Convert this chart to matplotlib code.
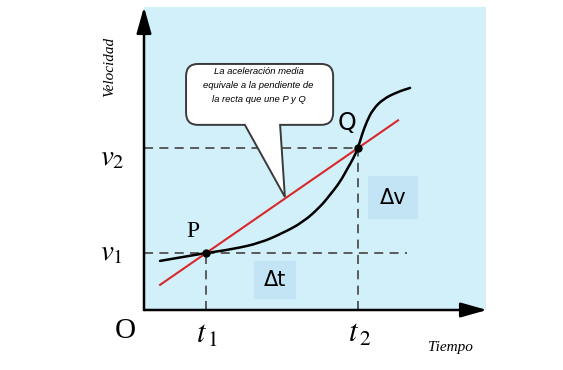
import matplotlib
matplotlib.use('Agg')
import matplotlib.pyplot as plt
from matplotlib.path import Path
from matplotlib.patches import PathPatch

plt.rcParams['mathtext.fontset'] = 'stix'

# Curva velocidad-tiempo (unidades arbitrarias, 0..10)
tiempo = [0.47, 1.14, 1.81, 2.60, 3.39, 4.06, 4.65, 5.15, 5.44, 5.73,
          5.96, 6.11, 6.26, 6.37, 6.52, 6.70, 6.99, 7.40, 7.78]
velocidad = [1.62, 1.75, 1.88, 2.01, 2.21, 2.54, 2.90, 3.40, 3.80, 4.22,
             4.69, 4.98, 5.35, 5.78, 6.24, 6.63, 6.96, 7.19, 7.33]

# Puntos P y Q
t1, v1 = 1.81, 1.88
t2, v2 = 6.26, 5.35

# Recta secante que une P y Q
recta_t = [0.47, 7.43]
recta_v = [0.83, 6.26]

# Fin de la guia horizontal de v1
fin_guia_v1 = 7.69

texto_globo = ["La aceleración media",
               "equivale a la pendiente de",
               "la recta que une P y Q"]

fondo = '#d2f0fa'
caja = '#c2e4f5'
guia = '#505050'

fig = plt.figure(figsize=(5.63, 3.70), dpi=100)
ax = fig.add_axes([144 / 563, 60 / 370, 342 / 563, 303 / 370])
ax.set_xlim(0, 10)
ax.set_ylim(0, 10)
ax.set_facecolor(fondo)
for s in ax.spines.values():
    s.set_visible(False)
ax.set_xticks([])
ax.set_yticks([])

# Guias discontinuas
estilo = dict(color=guia, lw=1.3, dashes=(5, 3.5))
ax.plot([0, fin_guia_v1], [v1, v1], **estilo)
ax.plot([0, t2], [v2, v2], **estilo)
ax.plot([t1, t1], [0, v1], **estilo)
ax.plot([t2, t2], [0, v2], **estilo)

# Curva suavizada: los puntos leidos hacen de puntos de control
pts = list(zip(tiempo, velocidad))
medio = lambda a, b: ((a[0] + b[0]) / 2, (a[1] + b[1]) / 2)
cv = [pts[0], medio(pts[0], pts[1])]
cc = [Path.MOVETO, Path.LINETO]
for i in range(1, len(pts) - 1):
    cv += [pts[i], medio(pts[i], pts[i + 1])]
    cc += [Path.CURVE3, Path.CURVE3]
cv.append(pts[-1])
cc.append(Path.LINETO)
ax.add_patch(PathPatch(Path(cv, cc), facecolor='none', edgecolor='black',
                       lw=1.8, capstyle='round', zorder=3))

ax.plot(recta_t, recta_v, color='#d8282a', lw=1.5, zorder=3)
ax.plot([t1, t2], [v1, v2], 'o', color='black', ms=5, zorder=4)

# Ejes con flecha
flecha = dict(arrowstyle='-|>,head_length=1.6,head_width=0.45', color='black',
              lw=1.8, shrinkA=0, shrinkB=0, mutation_scale=10)
ax.annotate('', xy=(0, 1.0), xytext=(0, 0), xycoords='axes fraction',
            arrowprops=flecha, annotation_clip=False)
ax.annotate('', xy=(1.003, 0), xytext=(0, 0), xycoords='axes fraction',
            arrowprops=flecha, annotation_clip=False)

# Globo de texto
x0, x1, y0, y1 = 1.23, 5.53, 6.11, 8.12
rx, ry = 0.35, 0.40
base_a, base_b = 2.95, 3.98
punta = (4.12, 3.73)
verts = [(x0 + rx, y1), (x1 - rx, y1), (x1, y1), (x1, y1 - ry),
         (x1, y0 + ry), (x1, y0), (x1 - rx, y0),
         (base_b, y0), punta, (base_a, y0),
         (x0 + rx, y0), (x0, y0), (x0, y0 + ry),
         (x0, y1 - ry), (x0, y1), (x0 + rx, y1), (x0 + rx, y1)]
codes = [Path.MOVETO, Path.LINETO, Path.CURVE3, Path.CURVE3,
         Path.LINETO, Path.CURVE3, Path.CURVE3,
         Path.LINETO, Path.LINETO, Path.LINETO,
         Path.LINETO, Path.CURVE3, Path.CURVE3,
         Path.LINETO, Path.CURVE3, Path.CURVE3, Path.CLOSEPOLY]
ax.add_patch(PathPatch(Path(verts, codes), facecolor='white',
                       edgecolor='#3a3a3a', lw=1.4, zorder=5))
for i, linea in enumerate(texto_globo):
    ax.text(3.35, 7.88 - i * 0.46, linea, ha='center', va='center',
            fontsize=6.8, style='italic', zorder=6,
            family=['Liberation Sans Narrow', 'Liberation Sans'])

# Cajas de incrementos
ax.text(3.83, 0.99, 'Δt', ha='center', va='center', fontsize=15,
        family='DejaVu Sans',
        bbox=dict(boxstyle='square,pad=0.45', fc=caja, ec='none'))
ax.text(7.28, 3.70, 'Δv', ha='center', va='center', fontsize=15,
        family='DejaVu Sans',
        bbox=dict(boxstyle='square,pad=0.55', fc=caja, ec='none'))

# Etiquetas P y Q
ax.annotate('P', xy=(t1, v1), xytext=(-13, 22), textcoords='offset pixels',
            ha='center', va='center', fontsize=17, family='Liberation Serif')
ax.annotate('Q', xy=(t2, v2), xytext=(-11, 25), textcoords='offset pixels',
            ha='center', va='center', fontsize=17, family='DejaVu Sans')

# Etiquetas de los ejes
ax.annotate(r'$v_{\mathit{2}}$', xy=(0, v2), xytext=(-32, -17),
            textcoords='offset pixels', ha='center', va='baseline',
            fontsize=21, annotation_clip=False)
ax.annotate(r'$v_{\mathit{1}}$', xy=(0, v1), xytext=(-33, -7),
            textcoords='offset pixels', ha='center', va='baseline',
            fontsize=21, annotation_clip=False)
ax.annotate(r'$t_{\,\mathrm{1}}$', xy=(t1, 0), xytext=(1, -33),
            textcoords='offset pixels', ha='center', va='baseline',
            fontsize=22, annotation_clip=False)
ax.annotate(r'$t_{\,\mathrm{2}}$', xy=(t2, 0), xytext=(1, -32),
            textcoords='offset pixels', ha='center', va='baseline',
            fontsize=22, annotation_clip=False)
ax.annotate('O', xy=(0, 0), xytext=(-19, -28), textcoords='offset pixels',
            ha='center', va='baseline', fontsize=21,
            family='Liberation Serif', annotation_clip=False)

ax.text(-0.99, 8.02, 'Velocidad', rotation=90, ha='center', va='center',
        fontsize=11, style='italic', family='Liberation Serif', clip_on=False)
ax.text(8.95, -1.25, 'Tiempo', ha='center', va='center', fontsize=11,
        style='italic', family='Liberation Serif', clip_on=False)

fig.savefig('out.png', dpi=100)
